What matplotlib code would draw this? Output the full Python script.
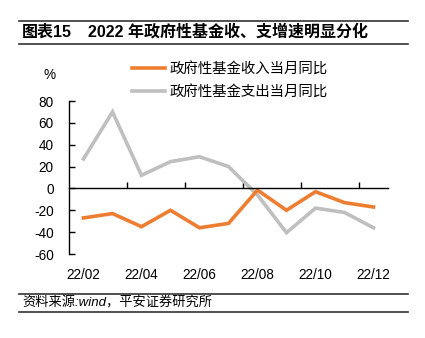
import numpy as np
import matplotlib
matplotlib.use('Agg')
import matplotlib.pyplot as plt
import matplotlib.ticker as ticker
from matplotlib.lines import Line2D

plt.rcParams['font.family'] = ['Liberation Sans', 'Noto Sans CJK SC', 'DejaVu Sans']
plt.rcParams['axes.unicode_minus'] = False

# данные
months = ['22/02', '22/03', '22/04', '22/05', '22/06', '22/07',
          '22/08', '22/09', '22/10', '22/11', '22/12']
income = [-27, -23, -35, -20, -36, -32, -1.5, -20, -3, -13, -17]
spend = [27, 70, 12, 24.5, 29, 20, -6, -40.5, -18, -22, -36]
label_income = '政府性基金收入当月同比'
label_spend = '政府性基金支出当月同比'
title_no = '图表15'
title_txt = '2022 年政府性基金收、支增速明显分化'
source_txt = '资料来源:wind，平安证券研究所'

W, H = 425, 338
fig = plt.figure(figsize=(W / 100, H / 100), dpi=100)

# оси
ax = fig.add_axes([69 / W, (H - 254) / H, (388 - 69) / W, (254 - 101) / H])
x = np.arange(len(months))
ax.plot(x, spend, color='#BFBFBF', lw=2.6, solid_joinstyle='miter')
ax.plot(x, income, color='#ED7D31', lw=2.6, solid_joinstyle='miter')

ax.set_xlim(-0.5, len(months) - 0.5)
ax.set_ylim(-60, 80)
ax.yaxis.set_major_locator(ticker.MultipleLocator(20))
ax.tick_params(axis='y', direction='in', length=4, width=1, pad=11, labelsize=9.8)

ax.spines['top'].set_visible(False)
ax.spines['right'].set_visible(False)
ax.spines['bottom'].set_position(('data', 0))
for s in ('left', 'bottom'):
    ax.spines[s].set_linewidth(1)

ax.set_xticks(np.arange(1.5, len(months) - 1, 2))
ax.set_xticklabels([])
ax.tick_params(axis='x', which='major', direction='in', length=4, width=1)
ax.set_xticks(x[::2], minor=True)
ax.set_xticklabels(months[::2], minor=True)
ax.tick_params(axis='x', which='minor', length=0, pad=57, labelsize=9.8)

fig.text(50 / W, (H - 75) / H, '%', fontsize=9.8, ha='center', va='center')

handles = [Line2D([], [], color='#ED7D31', lw=2.6),
           Line2D([], [], color='#BFBFBF', lw=2.6)]
fig.legend(handles, [label_income, label_spend], loc='upper left',
           bbox_to_anchor=(132 / W, (H - 62) / H), frameon=False,
           fontsize=10.4, handlelength=2.3, handletextpad=0.3,
           labelspacing=0.62, borderpad=0, borderaxespad=0)

# заголовок
fig.add_artist(Line2D([19 / W, 408 / W], [(H - 20.5) / H] * 2, color='#333333', lw=1.2))
fig.add_artist(Line2D([19 / W, 408 / W], [(H - 43.5) / H] * 2, color='#333333', lw=1.2))
fig.text(22 / W, (H - 32) / H, title_no, fontsize=11.5, fontweight='bold', va='center')
fig.text(88 / W, (H - 32) / H, title_txt, fontsize=11.5, fontweight='bold', va='center')

# источник
fig.add_artist(Line2D([19 / W, 408 / W], [(H - 294) / H] * 2, color='#333333', lw=1.2))
fig.add_artist(Line2D([19 / W, 408 / W], [(H - 312) / H] * 2, color='#333333', lw=1.2))
fig.text(22 / W, (H - 303) / H, source_txt, fontsize=9.5, style='italic', va='center')

fig.savefig('out.png', dpi=100)
